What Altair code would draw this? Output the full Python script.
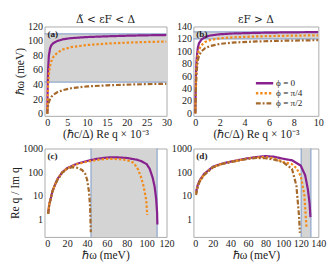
import altair as alt
import pandas as pd

SERIES = ["ϕ = 0", "ϕ = π/4", "ϕ = π/2"]
COLORS = ["#86218e", "#f28c1c", "#a5692c"]
DASHES = [[1, 0], [2.5, 2], [5, 2, 2, 2]]

# Panel (a): x = (ħc/Δ) Re q × 10^-3, y = ħω (meV)
a0_x = [0, 0.1, 0.2, 0.4, 0.7, 1, 1.5, 2.5, 4, 6, 10, 15, 20, 25, 30]
a0_y = [0, 40, 60, 80, 90, 94, 97, 100, 102.5, 104, 105.5, 106.5, 107.3, 107.9, 108.3]
a1_x = [0, 0.1, 0.2, 0.4, 0.7, 1, 1.5, 2.5, 4, 6, 10, 15, 20, 25, 30]
a1_y = [0, 25, 40, 55, 66, 72, 78, 84, 88.5, 91.5, 94.5, 96.5, 97.8, 98.7, 99.3]
a2_x = [0, 0.1, 0.3, 0.6, 1, 1.5, 2.5, 4, 6, 10, 15, 20, 25, 30]
a2_y = [0, 8, 14, 19, 23, 26, 29.5, 32.5, 35, 37.5, 39, 40, 40.7, 41.2]
a_band = [43.5, 110]

# Panel (b)
b0_x = [0, 0.05, 0.1, 0.2, 0.3, 0.5, 0.8, 1.2, 2, 3, 5, 7, 10]
b0_y = [0, 60, 85, 105, 113, 119, 123, 125.5, 127.5, 128.7, 129.8, 130.4, 131]
b1_x = [0, 0.05, 0.1, 0.2, 0.3, 0.5, 0.8, 1.2, 2, 3, 5, 7, 10]
b1_y = [0, 50, 75, 95, 103, 110, 115, 118, 121, 122.5, 124, 125, 125.8]
b2_x = [0, 0.05, 0.1, 0.2, 0.3, 0.5, 0.8, 1.2, 2, 3, 5, 7, 10]
b2_y = [0, 40, 65, 85, 93, 100, 105, 108.5, 112, 114, 116, 117, 118]
b_band = [120, 131.5]

# Panel (c): x = ħω (meV), y = Re q / Im q
c0_x = [0.8, 1.5, 2, 3, 5, 7, 10, 15, 20, 30, 40, 50, 60, 65, 70, 80, 90, 95, 100, 103, 106, 108, 109.5, 110.5, 110.8]
c0_y = [1.8, 3, 4.5, 6.5, 15, 25, 50, 100, 150, 230, 300, 370, 415, 430, 425, 400, 340, 290, 220, 140, 60, 25, 8, 2, 0.63]
c1_x = [0.8, 1.5, 2, 3, 5, 7, 10, 15, 20, 30, 40, 50, 60, 70, 80, 87, 91, 94, 97, 99.5, 100.6]
c1_y = [1.8, 3, 4.5, 6.5, 15, 25, 50, 100, 145, 220, 280, 330, 370, 360, 330, 250, 140, 70, 25, 7, 1.6]
c2_x = [0.8, 1.5, 2, 3, 5, 7, 10, 15, 20, 25, 30, 35, 38, 40, 42, 43, 43.8]
c2_y = [1.8, 3, 4.5, 6.5, 15, 25, 45, 95, 140, 165, 155, 125, 90, 50, 15, 4, 0.3]
c_band = [44, 110.5]

# Panel (d)
d0_x = [1, 3, 5, 10, 20, 30, 40, 60, 70, 80, 90, 100, 110, 120, 125, 128, 130, 131]
d0_y = [15, 30, 45, 85, 170, 230, 280, 390, 440, 480, 450, 370, 320, 190, 75, 20, 5, 1.3]
d1_x = [1, 3, 5, 10, 20, 30, 40, 60, 70, 80, 90, 100, 110, 115, 120, 124, 126.5]
d1_y = [13, 28, 42, 80, 165, 225, 275, 380, 420, 440, 380, 270, 220, 150, 70, 12, 0.5]
d2_x = [1, 3, 5, 10, 20, 30, 40, 60, 70, 80, 90, 100, 110, 115, 118, 119]
d2_y = [11, 26, 40, 75, 160, 220, 265, 370, 400, 390, 340, 265, 140, 28, 1.5, 0.28]
d_band = [120.5, 131.5]


def frame(xs, ys):
    rows = []
    for name, x, y in zip(SERIES, xs, ys):
        for xi, yi in zip(x, y):
            rows.append({"x": xi, "y": yi, "s": name})
    return pd.DataFrame(rows)


SERIF = "DejaVu Serif"
LSERIF = "Liberation Serif"
FRAME = "#a8a8a8"
H1 = 93
H2 = 92


def axis(title, values, fmt=None):
    kw = dict(title=title, values=values)
    if fmt is not None:
        kw["format"] = fmt
    return alt.Axis(**kw)


def panel(df, band, horizontal, xdom, ydom, xtitle, ytitle, label, xvals, yvals,
          log=False, legend=False, title=None, w=130, h=92):
    bdf = pd.DataFrame({"lo": [band[0]], "hi": [band[1]]})
    edges = pd.DataFrame({"v": band})
    xsc = alt.Scale(domain=xdom, nice=False, zero=False)
    if log:
        ysc = alt.Scale(type="log", domain=ydom, nice=False)
    else:
        ysc = alt.Scale(domain=ydom, nice=False, zero=False)
    xax = axis(xtitle, xvals)
    yax = axis(ytitle, yvals, "d" if log else None)
    if horizontal:
        rect = alt.Chart(bdf).mark_rect(color="#d4d4d4").encode(
            y=alt.Y("lo:Q", scale=ysc, axis=yax), y2="hi:Q")
        rule = alt.Chart(edges).mark_rule(color="#90a8cc", strokeWidth=1.3).encode(
            y=alt.Y("v:Q", scale=ysc, axis=yax))
    else:
        rect = alt.Chart(bdf).mark_rect(color="#d4d4d4").encode(
            x=alt.X("lo:Q", scale=xsc, axis=xax), x2="hi:Q")
        rule = alt.Chart(edges).mark_rule(color="#90a8cc", strokeWidth=1.3).encode(
            x=alt.X("v:Q", scale=xsc, axis=xax))
    line = alt.Chart(df).mark_line(strokeWidth=2.3, clip=True).encode(
        x=alt.X("x:Q", scale=xsc, axis=xax),
        y=alt.Y("y:Q", scale=ysc, axis=yax),
        color=alt.Color("s:N", scale=alt.Scale(domain=SERIES, range=COLORS), legend=None),
        strokeDash=alt.StrokeDash("s:N", scale=alt.Scale(domain=SERIES, range=DASHES), legend=None),
    )
    lab = alt.Chart(pd.DataFrame({"t": [label]})).mark_text(
        font=LSERIF, fontSize=9.5, fontWeight="bold", align="left", baseline="top",
        color="#222").encode(text="t:N", x=alt.value(3), y=alt.value(3))
    layers = [rect, rule, line, lab]
    if legend:
        for i, (name, col, dash) in enumerate(zip(SERIES, COLORS, DASHES)):
            ldf = pd.DataFrame({"t": [name]})
            yy = h - 34 + 10.5 * i
            layers.append(alt.Chart(ldf).mark_rule(color=col, strokeDash=dash, strokeWidth=2.5).encode(
                x=alt.value(65), x2=alt.value(83), y=alt.value(yy)))
            layers.append(alt.Chart(ldf).mark_text(
                font=LSERIF, fontSize=9.5, align="left", baseline="middle", color="#222").encode(
                text="t:N", x=alt.value(86), y=alt.value(yy)))
    if title:
        layers.append(alt.Chart(pd.DataFrame({"t": [title]})).mark_text(
            font=SERIF, fontSize=11, align="center", baseline="alphabetic", color="#222").encode(
            text="t:N", x=alt.value(w / 2), y=alt.value(-4)))
    return alt.layer(*layers).properties(width=w, height=h)


xt1 = "(ℏc/Δ) Re q × 10⁻³"
pa = panel(frame([a0_x, a1_x, a2_x], [a0_y, a1_y, a2_y]), a_band, True,
           [-0.7, 30], [-3, 120], xt1, "ℏω (meV)", "(a)",
           [0, 5, 10, 15, 20, 25, 30], [0, 20, 40, 60, 80, 100, 120],
           title="Δ̃ < εF < Δ", w=127, h=H1)
pb = panel(frame([b0_x, b1_x, b2_x], [b0_y, b1_y, b2_y]), b_band, True,
           [-0.15, 10], [-4, 140], xt1, None, "(b)",
           [0, 2, 4, 6, 8, 10], [0, 20, 40, 60, 80, 100, 120, 140],
           legend=True, title="εF > Δ", w=130, h=H1)
pc = panel(frame([c0_x, c1_x, c2_x], [c0_y, c1_y, c2_y]), c_band, False,
           [-2.8, 120], [0.19, 1000], "ℏω (meV)", "Re q / Im q", "(c)",
           [0, 20, 40, 60, 80, 100, 120], [1, 10, 100, 1000], log=True, w=127, h=H2)
pd_ = panel(frame([d0_x, d1_x, d2_x], [d0_y, d1_y, d2_y]), d_band, False,
            [-2, 140], [0.19, 1000], "ℏω (meV)", None, "(d)",
            [0, 20, 40, 60, 80, 100, 120, 140], [1, 10, 100, 1000], log=True, w=130, h=H2)

chart = alt.ConcatChart(
    concat=[pa, pb, pc, pd_], columns=2, bounds="flush",
    spacing=alt.RowColnumber(row=34, column=28),
).resolve_scale(x="independent", y="independent", color="independent",
                strokeDash="independent").configure_view(
    stroke=FRAME, strokeWidth=1).configure_axis(
    titleFont=LSERIF, titleFontWeight="normal", titleFontSize=12, titleColor="#222",
    labelFont=LSERIF, labelFontSize=10.5, labelColor="#222", domain=False, ticks=False,
    grid=False, labelPadding=2, titlePadding=1, labelOverlap=False, labelFlush=False,
).properties(padding=0)

chart.save("out.html", embed_options={"renderer": "svg", "actions": False})
